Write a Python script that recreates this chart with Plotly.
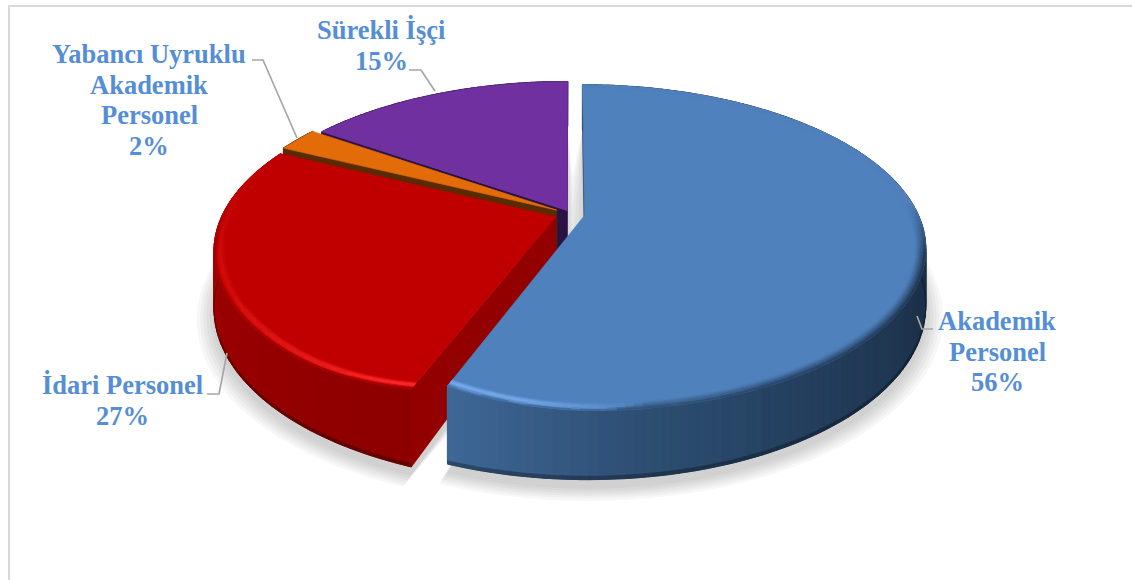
import math
import plotly.graph_objects as go

# Chart data
categories = [["Akademik", "Personel"], ["İdari Personel"], ["Yabancı Uyruklu", "Akademik", "Personel"], ["Sürekli İşçi"]]
shares = [55.5, 26.6, 2.4, 15.4]

# Theme colours per slice
COLOR_TOP = ["#4f81bd", "#c00000", "#e36c09", "#7030a0"]
COLOR_CUT = ["#2c4a70", "#930000", "#5a2a02", "#2a1245"]
COLOR_HILITE = ["#74a8e8", "#ff2a2a", "#e36c09", "#7030a0"]
# (angle, colour) stops of the outer wall
WALL_STOPS = [
    [(0, "#1c3048"), (110, "#1c3048"), (150, "#24405f"), (175, "#2f5075"), (200, "#3f6897")],
    [(200, "#8c0000"), (240, "#980000"), (285, "#aa0000"), (300, "#aa0000")],
    [(0, "#5a2a02"), (360, "#5a2a02")],
    [(0, "#2a1245"), (360, "#2a1245")],
]
COLOR_LABEL = "#558ed5"
COLOR_LEADER = "#a6a6a6"
COLOR_FRAME = "#d9d9d9"

# Explosion of each slice, same idea as the pull of a plotly pie
PULL = [0.042, 0.049, 0.05, 0.026]

# Perspective view of the pie
CX, CY = 571, 214
RX, RY = 333, 156
PERSP = 0.2
DEPTH = 55
BEVEL = 0.03


def project(x, y, drop=0.0):
    s = 1 / (1 + PERSP * y)
    return CX + RX * x * s, CY - RY * y * s + DEPTH * s * drop


def hex_rgb(c):
    return [int(c[i:i + 2], 16) for i in (1, 3, 5)]


def mix(c1, c2, t):
    a, b = hex_rgb(c1), hex_rgb(c2)
    t = max(0.0, min(1.0, t))
    return "#%02x%02x%02x" % tuple(int(round((p + (q - p) * t) / 2) * 2) for p, q in zip(a, b))


def polar(i, ang, r=1.0, pull=None):
    """Ground point of slice i, angle clockwise from 12 o'clock in degrees."""
    mid = math.radians(MID[i])
    p = PULL[i] if pull is None else pull
    a = math.radians(ang)
    return p * math.sin(mid) + r * math.sin(a), p * math.cos(mid) + r * math.cos(a)


# Slice angles come from the shares
total = sum(shares)
START, END, MID = [], [], []
acc = 0.0
for v in shares:
    START.append(acc / total * 360)
    acc += v
    END.append(acc / total * 360)
    MID.append((START[-1] + END[-1]) / 2)


def arc(i, step=1.25):
    n = max(2, int((END[i] - START[i]) / step))
    return [START[i] + (END[i] - START[i]) * k / n for k in range(n + 1)]


def lift(i, ang):
    """The top rim rises a little towards the corner shared by the two front slices."""
    if i > 1:
        return 0.0
    return -0.15 * max(0.0, 1 - abs(ang - END[0]) / 24) ** 2


fig = go.Figure()


def add_polys(polys, width=0.7):
    """polys: list of (color, [(x, y), ...]). One trace per colour keeps it light."""
    groups = {}
    for color, pts in polys:
        g = groups.setdefault(color, ([], []))
        g[0].extend([p[0] for p in pts] + [pts[0][0], None])
        g[1].extend([p[1] for p in pts] + [pts[0][1], None])
    for color, (xs, ys) in groups.items():
        fig.add_trace(go.Scatter(
            x=xs, y=ys, mode="lines", fill="toself", fillcolor=color,
            line=dict(color=color, width=width), hoverinfo="skip", showlegend=False,
        ))


def wall_color(i, ang):
    stops = WALL_STOPS[i]
    for (a0, c0), (a1, c1) in zip(stops[:-1], stops[1:]):
        if ang <= a1:
            return mix(c0, c1, (ang - a0) / (a1 - a0))
    return stops[-1][1]


def hilite_weight(i, ang):
    if i == 0:
        return max(0.0, min(1.0, (ang - 172) / 18))
    if i == 1:
        return max(0.0, min(1.0, (285 - ang) / 30)) * max(0.3, 1 - (ang - START[i]) / 60)
    return 0.0


def edge_fade(i, ang):
    """Rim only melts into the wall where the wall is in view."""
    if i == 0:
        return max(0.0, min(1.0, (ang - 85) / 20))
    return max(0.0, min(1.0, (275 - ang) / 13))


# Soft ground shadow behind the whole pie
for off in [16, 13, 10, 7, 4, 1]:
    xs, ys = [], []
    for i in range(len(shares)):
        d = off / RX
        ground = [polar(i, 0, 0, PULL[i] - d * 2.2)] + [polar(i, a, 1 + d) for a in arc(i)]
        pts = [project(x, y, 1.12) for x, y in ground]
        xs += [p[0] for p in pts] + [pts[0][0], None]
        ys += [p[1] for p in pts] + [pts[0][1], None]
    fig.add_trace(go.Scatter(x=xs, y=ys, mode="none", fill="toself", fillcolor="rgba(0,0,0,0.03)",
                             hoverinfo="skip", showlegend=False))

# Painter's order: back slices first
for i in [3, 2, 1, 0]:
    angs = arc(i)
    apex = polar(i, 0, 0)

    # solid underlay, so the seams of the wall strips stay out of sight
    under = [project(*polar(i, a)) for a in angs] + [project(*polar(i, a), 1) for a in reversed(angs)]
    add_polys([(wall_color(i, MID[i]), under)])

    # outer wall
    polys = []
    dark = []
    for a0, a1 in zip(angs[:-1], angs[1:]):
        p0, p1 = polar(i, a0), polar(i, a1)
        col = wall_color(i, (a0 + a1) / 2)
        polys.append((col, [project(*p0, lift(i, a0)), project(*p1, lift(i, a1)), project(*p1, 0.95), project(*p0, 0.95)]))
        dark.append((mix(col, "#000000", 0.3), [project(*p1, 0.95), project(*p0, 0.95), project(*p0, 1), project(*p1, 1)]))
    add_polys(polys, width=1.2)
    add_polys(dark, width=0.7)

    # cut faces, only those on the lower side of the outline
    polys = []
    for a_pt, b_pt, ang in [(apex, polar(i, START[i]), START[i]), (polar(i, END[i]), apex, END[i])]:
        if project(*b_pt)[0] < project(*a_pt)[0] - 0.5:
            polys.append((COLOR_CUT[i], [project(*a_pt), project(*b_pt, lift(i, ang)), project(*b_pt, 1), project(*a_pt, 1)]))
    add_polys(polys)

    # top
    top = [project(*apex)] + [project(*polar(i, a), lift(i, a)) for a in angs]
    add_polys([(COLOR_TOP[i], top)])

    # bevel along the outer rim
    if i < 2:
        polys = []
        steps = 6
        for j in range(steps):
            r0 = 1 - BEVEL + BEVEL * j / steps
            r1 = 1 - BEVEL + BEVEL * (j + 1) / steps
            tm = (j + 0.5) / steps
            for a0, a1 in zip(angs[:-1], angs[1:]):
                am = (a0 + a1) / 2
                w = hilite_weight(i, am)
                col = mix(COLOR_TOP[i], COLOR_HILITE[i], w * math.sin(math.pi * min(1, tm / 0.85)))
                e0 = min(0.8, w * 2.4)
                col = mix(col, wall_color(i, am), edge_fade(i, am) * max(0.0, (tm - e0) / (1 - e0)) ** 1.2)
                polys.append((col, [project(*polar(i, a0, r0), lift(i, a0)), project(*polar(i, a1, r0), lift(i, a1)),
                                    project(*polar(i, a1, r1), lift(i, a1)), project(*polar(i, a0, r1), lift(i, a0))]))
        add_polys(polys)

# Data labels, one annotation per line to hold the tight line spacing
percent = [round(v / total * 100) for v in shares]
label_x = [997, 122, 149, 381]
label_top = [321, 385, 54, 30]
LINE_GAP = 30.5
for name, pct, lx, ly in zip(categories, percent, label_x, label_top):
    for k, line in enumerate(name + [f"{pct}%"]):
        fig.add_annotation(
            x=lx, y=ly + k * LINE_GAP, text=line, showarrow=False,
            font=dict(family="Liberation Serif", size=26.5, color=COLOR_LABEL, weight="bold"),
        )

# Leader lines and slide frame
leaders = [
    [(917, 316), (922, 329), (933, 329)],
    [(227, 353), (219, 394), (207, 394)],
    [(252, 60), (263, 60), (297, 138)],
    [(409, 70), (421, 70), (435, 91)],
]
for pts in leaders:
    fig.add_trace(go.Scatter(x=[p[0] for p in pts], y=[p[1] for p in pts], mode="lines",
                             line=dict(color=COLOR_LEADER, width=1.7), hoverinfo="skip", showlegend=False))
fig.add_trace(go.Scatter(x=[9, 9, 1132], y=[580, 6, 6], mode="lines",
                         line=dict(color=COLOR_FRAME, width=2), hoverinfo="skip", showlegend=False))

fig.update_layout(
    width=1132, height=580, margin=dict(l=0, r=0, t=0, b=0),
    paper_bgcolor="white", plot_bgcolor="white",
    xaxis=dict(range=[0, 1132], visible=False, fixedrange=True),
    yaxis=dict(range=[580, 0], visible=False, fixedrange=True),
)
fig.write_html("out.html", config={"displayModeBar": False},
               post_script="document.body.style.margin='0';document.body.style.overflow='hidden';")
